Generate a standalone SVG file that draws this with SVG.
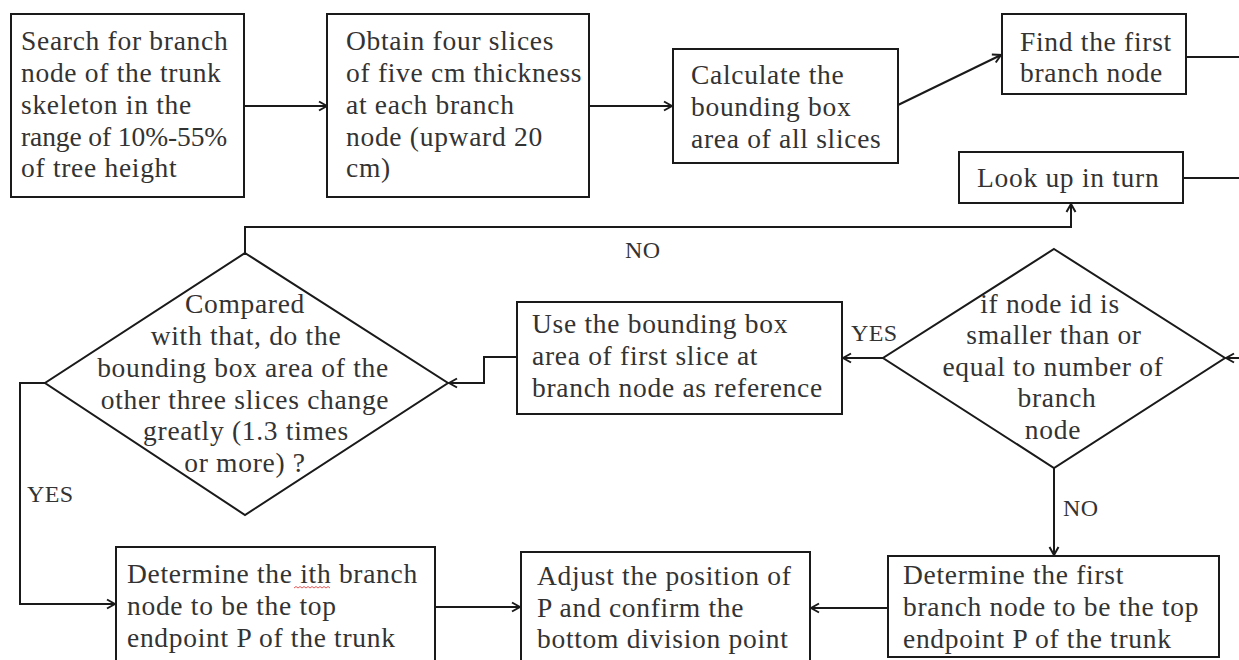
<svg xmlns="http://www.w3.org/2000/svg" width="1239" height="660" viewBox="0 0 1239 660">
<defs>
<style>
.box{fill:#fff;stroke:#1a1a1a;stroke-width:2}
.t{font-family:"Liberation Serif","Times New Roman",serif;font-size:27.5px;letter-spacing:0.7px;fill:#333}
.c{text-anchor:middle}
.lbl{font-family:"Liberation Serif","Times New Roman",serif;font-size:24px;letter-spacing:0.4px;fill:#333}
.ln{fill:none;stroke:#1a1a1a;stroke-width:2}
</style>
<marker id="arr" viewBox="0 0 12 12" refX="11" refY="6" markerWidth="12" markerHeight="12" markerUnits="userSpaceOnUse" orient="auto">
<path d="M3,1.5 L11,6 L3,10.5" fill="none" stroke="#1a1a1a" stroke-width="2"/>
</marker>
</defs>
<rect width="1239" height="660" fill="#fff"/>

<g id="connectors">
<line class="ln" x1="244" y1="106" x2="327" y2="106" marker-end="url(#arr)"/>
<line class="ln" x1="589" y1="106" x2="672" y2="106" marker-end="url(#arr)"/>
<line class="ln" x1="898" y1="105" x2="1001" y2="55" marker-end="url(#arr)"/>
<line class="ln" x1="1186" y1="57" x2="1240" y2="57"/>
<line class="ln" x1="1183" y1="178" x2="1240" y2="178"/>
<path class="ln" d="M245,253 V227 H1071 V204" marker-end="url(#arr)"/>
<line class="ln" x1="1240" y1="358" x2="1226" y2="358" marker-end="url(#arr)"/>
<line class="ln" x1="883" y1="358" x2="843" y2="358" marker-end="url(#arr)"/>
<path class="ln" d="M517,357 H484 V383 H449" marker-end="url(#arr)"/>
<line class="ln" x1="1054" y1="468" x2="1054" y2="555" marker-end="url(#arr)"/>
<path class="ln" d="M45,383 H20 V604 H115" marker-end="url(#arr)"/>
<line class="ln" x1="435" y1="607" x2="520" y2="607" marker-end="url(#arr)"/>
<line class="ln" x1="888" y1="608" x2="811" y2="608" marker-end="url(#arr)"/>
<text class="lbl" x="625" y="258">NO</text>
<text class="lbl" x="851" y="341">YES</text>
<text class="lbl" x="1063" y="516">NO</text>
<text class="lbl" x="27" y="502">YES</text>
</g>

<g id="n1">
<rect class="box" x="11" y="14" width="233" height="183"/>
<text class="t" x="21" y="50">Search for branch</text>
<text class="t" x="21" y="82">node of the trunk</text>
<text class="t" x="21" y="113.5">skeleton in the</text>
<text class="t" x="21" y="145.5" style="letter-spacing:-0.1px">range of 10%-55%</text>
<text class="t" x="21" y="177">of tree height</text>
</g>

<g id="n2">
<rect class="box" x="327" y="14" width="262" height="183"/>
<text class="t" x="346" y="50">Obtain four slices</text>
<text class="t" x="346" y="82">of five cm thickness</text>
<text class="t" x="346" y="113.5">at each branch</text>
<text class="t" x="346" y="145.5">node (upward 20</text>
<text class="t" x="346" y="177">cm)</text>
</g>

<g id="n3">
<rect class="box" x="673" y="49" width="225" height="114"/>
<text class="t" x="691" y="84">Calculate the</text>
<text class="t" x="691" y="116">bounding box</text>
<text class="t" x="691" y="148">area of all slices</text>
</g>

<g id="n4">
<rect class="box" x="1002" y="14" width="184" height="80"/>
<text class="t" x="1020" y="51">Find the first</text>
<text class="t" x="1020" y="82">branch node</text>
</g>

<g id="n5">
<rect class="box" x="959" y="152" width="224" height="51"/>
<text class="t" x="977" y="187">Look up in turn</text>
</g>

<g id="n6">
<polygon class="box" points="1054,249 1225,358 1054,468 883,358"/>
<text class="t c" x="1050" y="313">if node id is</text>
<text class="t c" x="1054" y="344">smaller than or</text>
<text class="t c" x="1053" y="375.5">equal to number of</text>
<text class="t c" x="1057" y="407">branch</text>
<text class="t c" x="1053" y="439">node</text>
</g>

<g id="n7">
<rect class="box" x="517" y="302" width="325" height="112"/>
<text class="t" x="532" y="333">Use the bounding box</text>
<text class="t" x="532" y="365">area of first slice at</text>
<text class="t" x="532" y="397">branch node as reference</text>
</g>

<g id="n8">
<polygon class="box" points="245,253 448,383 245,515 45,383"/>
<text class="t c" x="245" y="313">Compared</text>
<text class="t c" x="246" y="345">with that, do the</text>
<text class="t c" x="243" y="377">bounding box area of the</text>
<text class="t c" x="245" y="408.5">other three slices change</text>
<text class="t c" x="246" y="440">greatly (1.3 times</text>
<text class="t c" x="245" y="472">or more) ?</text>
</g>

<g id="n9">
<rect class="box" x="116" y="547" width="319" height="120"/>
<text class="t" x="127" y="583">Determine the ith branch</text>
<text class="t" x="127" y="615">node to be the top</text>
<text class="t" x="127" y="647">endpoint P of the trunk</text>
<path d="M294,588 l2,-1.5 l2,1.5 l2,-1.5 l2,1.5 l2,-1.5 l2,1.5 l2,-1.5 l2,1.5 l2,-1.5 l2,1.5 l2,-1.5 l2,1.5 l2,-1.5 l2,1.5 l2,-1.5 l2,1.5 l2,-1.5 l2,1.5" fill="none" stroke="#e03030" stroke-width="0.8"/>
</g>

<g id="n10">
<rect class="box" x="521" y="552" width="289" height="115"/>
<text class="t" x="537" y="585">Adjust the position of</text>
<text class="t" x="537" y="617">P and confirm the</text>
<text class="t" x="537" y="648">bottom division point</text>
</g>

<g id="n11">
<rect class="box" x="888" y="556" width="331" height="101"/>
<text class="t" x="903" y="584">Determine the first</text>
<text class="t" x="903" y="616">branch node to be the top</text>
<text class="t" x="903" y="648">endpoint P of the trunk</text>
</g>
</svg>
